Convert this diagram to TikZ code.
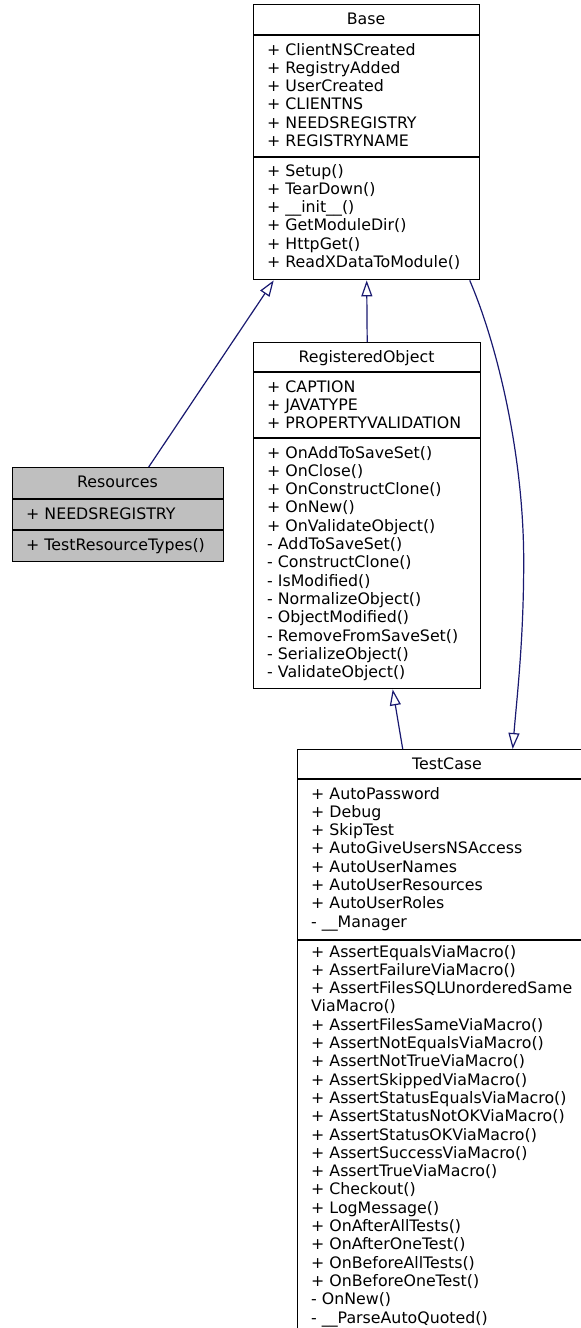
\documentclass[tikz,border=0pt]{standalone}
\usepackage{fontspec}
\setmainfont{DejaVu Sans}
\usetikzlibrary{arrows.meta,calc}
\definecolor{edgeblue}{HTML}{191970}
\definecolor{resgray}{HTML}{BFBFBF}
\newcommand\memberlist[4]{% prefix, x, y0, list
  \foreach[count=\i] \t in {#4} {
    \node[member] (#1\i) at (#2,{#3+(\i-1)*18.3}) {\t};
  }%
}
\begin{document}
\begin{tikzpicture}[x=1pt,y=-1pt,
  classbox/.style={draw=black, line width=1.4pt, inner sep=0pt, anchor=north west},
  member/.style={anchor=base west, inner sep=0pt, font=\fontsize{15.8}{18.3}\selectfont},
  title/.style={anchor=base, inner sep=0pt, font=\fontsize{15.8}{18.3}\selectfont},
  sep/.style={line width=1.4pt},
  inherit/.style={draw=edgeblue, line width=1.2pt, -{Triangle[open, length=16pt, width=11pt, line width=1.2pt]}}
]
\useasboundingbox (0,0) rectangle (581,1328);
\clip (0,0) rectangle (581,1328);

% Base
\node[classbox, fill=white, minimum width=226pt, minimum height=275pt] (base) at (253,4) {};
\draw[sep] (253,35) -- (479,35);
\draw[sep] (253,157) -- (479,157);
\node[title] (baseT) at (366,24) {Base};
\memberlist{baseA}{267}{55}{+ ClientNSCreated, + RegistryAdded, + UserCreated, + CLIENTNS, + NEEDSREGISTRY, + REGISTRYNAME}
\memberlist{baseM}{267}{176}{+ Setup(), + TearDown(), + \_\_init\_\_(), + GetModuleDir(), + HttpGet(), + ReadXDataToModule()}

% Resources
\node[classbox, fill=resgray, minimum width=211pt, minimum height=94pt] (res) at (12,467) {};
\draw[sep] (12,499) -- (223,499);
\draw[sep] (12,530) -- (223,530);
\node[title] (resT) at (117.5,487) {Resources};
\node[member] (resA1) at (26,519) {+ NEEDSREGISTRY};
\node[member] (resM1) at (26,550) {+ TestResourceTypes()};

% RegisteredObject
\node[classbox, fill=white, minimum width=227pt, minimum height=346pt] (regobj) at (253,342) {};
\draw[sep] (253,372) -- (480,372);
\draw[sep] (253,438) -- (480,438);
\node[title] (regobjT) at (366.5,362) {RegisteredObject};
\memberlist{regA}{267}{392}{+ CAPTION, + JAVATYPE, + PROPERTYVALIDATION}
\memberlist{regM}{267}{458}{+ OnAddToSaveSet(), + OnClose(), + OnConstructClone(), + OnNew(), + OnValidateObject(), - AddToSaveSet(), - ConstructClone(), - IsModified(), - NormalizeObject(), - ObjectModified(), - RemoveFromSaveSet(), - SerializeObject(), - ValidateObject()}

% TestCase
\node[classbox, fill=white, minimum width=300pt, minimum height=590pt] (testcase) at (297,749) {};
\draw[sep] (297,779) -- (597,779);
\draw[sep] (297,940) -- (597,940);
\node[title] (testcaseT) at (447,769) {TestCase};
\memberlist{tcA}{311}{799}{+ AutoPassword, + Debug, + SkipTest, + AutoGiveUsersNSAccess, + AutoUserNames, + AutoUserResources, + AutoUserRoles, - \_\_Manager}
\memberlist{tcM}{311}{957}{+ AssertEqualsViaMacro(), + AssertFailureViaMacro(), + AssertFilesSQLUnorderedSame, ViaMacro(), + AssertFilesSameViaMacro(), + AssertNotEqualsViaMacro(), + AssertNotTrueViaMacro(), + AssertSkippedViaMacro(), + AssertStatusEqualsViaMacro(), + AssertStatusNotOKViaMacro(), + AssertStatusOKViaMacro(), + AssertSuccessViaMacro(), + AssertTrueViaMacro(), + Checkout(), + LogMessage(), + OnAfterAllTests(), + OnAfterOneTest(), + OnBeforeAllTests(), + OnBeforeOneTest(), - OnNew(), - \_\_ParseAutoQuoted()}

% Inheritance connectors
\draw[inherit] ([xshift=30.5pt]res.north) -- ([xshift=-93pt]base.south);
\draw[inherit] (regobj.north) -- (base.south);
\draw[inherit] ([xshift=-45pt]testcase.north) -- ([xshift=25.5pt]regobj.south);
\draw[inherit] ([xshift=103pt]base.south) .. controls +(26,60) and +(0,-110) .. ++(54,281)
  .. controls +(0,80) and +(4,-50) .. ([xshift=65pt]testcase.north);
\end{tikzpicture}
\end{document}
